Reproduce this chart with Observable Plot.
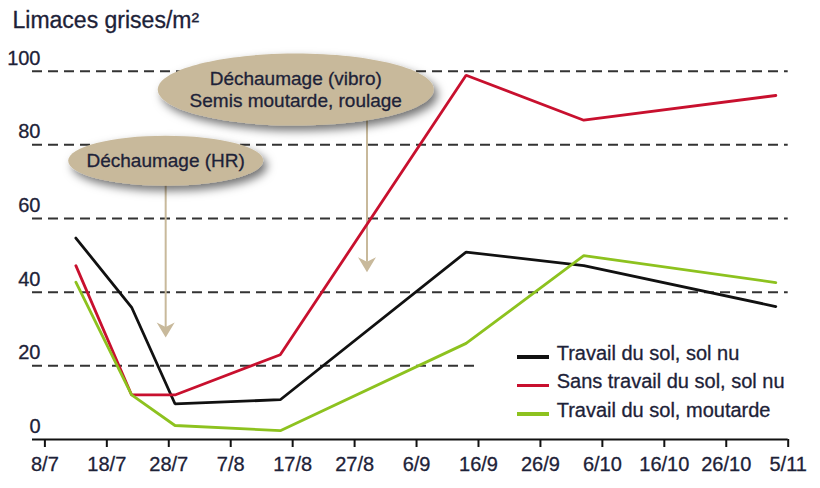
<!DOCTYPE html>
<html>
<head>
<meta charset="utf-8">
<script src="https://cdn.jsdelivr.net/npm/d3@7"></script>
<script src="https://cdn.jsdelivr.net/npm/@observablehq/plot@0.6"></script>
<style>
  body { margin: 0; background: #fff; }
  #wrap { position: relative; width: 820px; height: 488px; font-family: "Liberation Sans", Arial, sans-serif; color: #1d2238; }
  #wrap svg { display: block; }
  #wrap svg text { stroke: #1d2238; stroke-width: 0.3px; }
  #legend { position: absolute; left: 516.7px; top: 338.75px; font-size: 20px; line-height: 28.6px; white-space: nowrap; -webkit-text-stroke: 0.3px #1d2238; }
  #legend .sw { display: inline-block; width: 32.6px; height: 3.5px; vertical-align: 1px; margin-right: 7.4px; }
</style>
</head>
<body>
<div id="wrap"><div id="legend"></div></div>
<script>
// ---- data ----
const title = "Limaces grises/m²";
const tickLabels = ["8/7", "18/7", "28/7", "7/8", "17/8", "27/8", "6/9", "16/9", "26/9", "6/10", "16/10", "26/10", "5/11"];
const xDomainLabels = ["6/7", "5/11"];
const yTicks = [0, 20, 40, 60, 80, 100];
const gridValues = [40, 60, 80, 100];
const shortGridValues = [20];
const shortGridEnd = "16/9";

const sampleDates = ["2010-07-13", "2010-07-22", "2010-07-29", "2010-08-15", "2010-09-14", "2010-10-03", "2010-11-03"];
const seriesNames = ["Travail du sol, sol nu", "Sans travail du sol, sol nu", "Travail du sol, moutarde"];
const seriesColors = ["#111111", "#c8102e", "#8dc21f"];
const valuesSolNu = [54.7, 35.9, 9.7, 10.8, 50.9, 47.2, 36.1];
const valuesSansTravail = [47.2, 12.1, 12.1, 23.0, 98.9, 86.7, 93.4];
const valuesMoutarde = [42.7, 12.1, 3.8, 2.4, 26.1, 49.9, 42.6];

const bubbleLabels = ["Déchaumage (HR)", "Déchaumage (vibro)\nSemis moutarde, roulage"];
const bubbleDates = ["2010-07-27T12:00Z", "2010-08-17T12:00Z"];
const bubbleValues = [75.7, 95.0];
const arrowDates = ["2010-07-27T12:00Z", "2010-08-29T00:00Z"];
const arrowTipValues = [27.7, 45.4];

// ---- helpers ----
const parseDM = s => { const [d, m] = s.split("/").map(Number); return new Date(Date.UTC(2010, m - 1, d)); };
const fmtDM = d => `${d.getUTCDate()}/${d.getUTCMonth() + 1}`;
const textColor = "#1d2238";
const tan = "#c8b99b";

const allSeries = [valuesSolNu, valuesSansTravail, valuesMoutarde];
const rows = [];
allSeries.forEach((vals, i) => vals.forEach((v, j) => rows.push({series: seriesNames[i], date: new Date(sampleDates[j]), value: v})));

const bubbles = bubbleLabels.map((t, i) => ({label: t, date: new Date(bubbleDates[i]), value: bubbleValues[i]}));
const arrows = arrowDates.map((d, i) => ({date: new Date(d), top: bubbleValues[i], tip: arrowTipValues[i]}));

function ellipseSymbol(rx, ry) {
  const kx = rx * 0.5523, ky = ry * 0.5523;
  return {draw(c) {
    c.moveTo(rx, 0);
    c.bezierCurveTo(rx, ky, kx, ry, 0, ry);
    c.bezierCurveTo(-kx, ry, -rx, ky, -rx, 0);
    c.bezierCurveTo(-rx, -ky, -kx, -ry, 0, -ry);
    c.bezierCurveTo(kx, -ry, rx, -ky, rx, 0);
    c.closePath();
  }};
}
const headSymbol = {draw(c) {
  c.moveTo(0, 0);
  c.lineTo(-9, -15);
  c.lineTo(0, -10.5);
  c.lineTo(9, -15);
  c.closePath();
}};

const plot = Plot.plot({
  width: 820,
  height: 488,
  marginLeft: 32,
  marginRight: 32.3,
  marginTop: 70.7,
  marginBottom: 49,
  style: {fontFamily: '"Liberation Sans", Arial, sans-serif', background: "#fff", overflow: "visible"},
  x: {type: "utc", domain: xDomainLabels.map(parseDM)},
  y: {domain: [0, 100]},
  color: {domain: seriesNames, range: seriesColors},
  marks: [
    Plot.ruleY(gridValues, {stroke: "#333", strokeWidth: 2, strokeDasharray: "10,6"}),
    Plot.ruleY(shortGridValues, {x1: parseDM(xDomainLabels[0]), x2: parseDM(shortGridEnd), stroke: "#333", strokeWidth: 2, strokeDasharray: "10,6"}),
    Plot.ruleY([0], {stroke: "#111", strokeWidth: 2}),
    Plot.axisX({ticks: tickLabels.map(parseDM), tickFormat: fmtDM, tickSize: 8, tickPadding: 9, fontSize: 20, stroke: "#111", strokeWidth: 2, fill: textColor, label: null}),
    Plot.axisY({ticks: yTicks, tickSize: 0, tickPadding: 0, dx: 8, dy: -13, fontSize: 20, fill: textColor, textAnchor: "end", label: null}),
    Plot.ruleX(arrows, {x: "date", y1: "top", y2: "tip", stroke: tan, strokeWidth: 2, insetBottom: 10}),
    Plot.dot(arrows, {x: "date", y: "tip", symbol: headSymbol, fill: tan, stroke: "none"}),
    Plot.line(rows, {x: "date", y: "value", z: "series", stroke: "series", strokeWidth: 2.8, strokeLinejoin: "miter"}),
    Plot.dot([bubbles[0]], {x: "date", y: "value", symbol: ellipseSymbol(97.5, 25), fill: tan, stroke: "none", ariaDescription: "bubble"}),
    Plot.dot([bubbles[1]], {x: "date", y: "value", symbol: ellipseSymbol(138, 36), fill: tan, stroke: "none", ariaDescription: "bubble"}),
    Plot.text(bubbles, {x: "date", y: "value", text: "label", fontSize: 19, lineHeight: 1.16, dy: -1, fill: textColor}),
    Plot.text([title], {frameAnchor: "top-left", dx: -20, dy: -51, textAnchor: "start", lineAnchor: "middle", fontSize: 23, fill: textColor})
  ]
});

// soft drop shadow on the bubbles
const ns = "http://www.w3.org/2000/svg";
const defs = document.createElementNS(ns, "defs");
defs.innerHTML = '<filter id="bubbleShadow" x="-30%" y="-60%" width="170%" height="240%"><feGaussianBlur in="SourceAlpha" stdDeviation="5"/><feOffset dx="4" dy="5" result="b"/><feFlood flood-color="#000" flood-opacity="0.55"/><feComposite in2="b" operator="in"/><feMerge><feMergeNode/><feMergeNode in="SourceGraphic"/></feMerge></filter>';
plot.insertBefore(defs, plot.firstChild);
plot.querySelectorAll('g[aria-description="bubble"]').forEach(g => g.setAttribute("filter", "url(#bubbleShadow)"));

const wrap = document.getElementById("wrap");
wrap.insertBefore(plot, wrap.firstChild);

const legend = document.getElementById("legend");
seriesNames.forEach((name, i) => {
  const row = document.createElement("div");
  const sw = document.createElement("span");
  sw.className = "sw";
  sw.style.background = seriesColors[i];
  row.appendChild(sw);
  row.appendChild(document.createTextNode(name));
  legend.appendChild(row);
});
</script>
</body>
</html>
